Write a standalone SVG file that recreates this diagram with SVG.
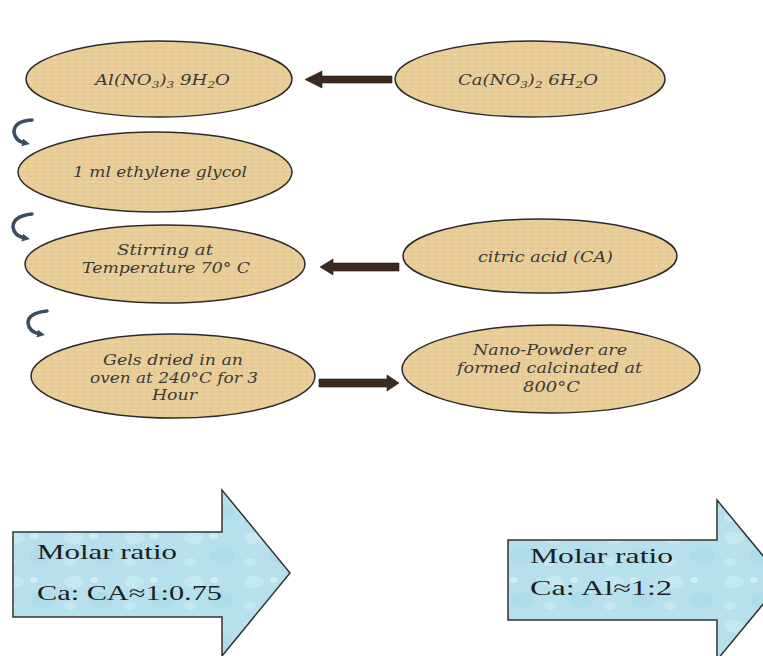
<svg xmlns="http://www.w3.org/2000/svg" width="763" height="656" viewBox="0 0 763 656">
<defs>
<pattern id="papyrus" width="8" height="8" patternUnits="userSpaceOnUse">
<rect width="8" height="8" fill="#E8CB94"/>
<path d="M0 2H8M0 6H8" stroke="#F0D9AA" stroke-width="1" opacity="0.7"/>
<path d="M3 0V8" stroke="#DDBE85" stroke-width="0.8" opacity="0.6"/>
</pattern>
<pattern id="water" width="60" height="44" patternUnits="userSpaceOnUse">
<rect width="60" height="44" fill="#B6E1EC"/>
<ellipse cx="14" cy="10" rx="10" ry="6" fill="#CDEDF4" opacity="0.6"/>
<ellipse cx="42" cy="28" rx="12" ry="8" fill="#A6D8E6" opacity="0.5"/>
<ellipse cx="34" cy="8" rx="4" ry="3" fill="#DDF3F8" opacity="0.6"/>
<ellipse cx="10" cy="34" rx="6" ry="4" fill="#D2EFF5" opacity="0.55"/>
</pattern>
<marker id="curveHead" markerWidth="8" markerHeight="8" refX="3" refY="4" orient="auto" markerUnits="userSpaceOnUse">
<path d="M0,0 L8,4 L0,8 Z" fill="#3A4D63"/>
</marker>
<style>
.ell{fill:url(#papyrus);stroke:#2b2b2b;stroke-width:1.5}
.et{font-family:"DejaVu Serif","Liberation Serif",serif;font-style:italic;font-size:15px;fill:#3a3a3a;text-anchor:start}
.sub{font-size:10px}
.blk{fill:url(#water);stroke:#333;stroke-width:1.5}
.bt{font-family:"Liberation Serif","Times New Roman",serif;font-size:21px;fill:#1e1e1e}
.conn{fill:#3b2a20;stroke:#1f1a18;stroke-width:0.6}
.curve{fill:none;stroke:#3A4D63;stroke-width:3.5;stroke-linecap:round}
</style>
</defs>
<rect width="763" height="656" fill="#ffffff"/>

<g id="connectors">
<polygon class="conn" points="392,76 322,76 322,71 305,79.5 322,88 322,83 392,83"/>
<polygon class="conn" points="399,263 333,263 333,259 320,267 333,275 333,271 399,271"/>
<polygon class="conn" points="319,379 387,379 387,375 399,383 387,391 387,387 319,387"/>
<path class="curve" d="M32,120 Q14,121 14,132 Q15,141 25,143" marker-end="url(#curveHead)"/>
<path class="curve" d="M32,214 Q13,216 13,227 Q14,236 25,238" marker-end="url(#curveHead)"/>
<path class="curve" d="M47,311 Q28,313 28,323 Q29,332 40,334" marker-end="url(#curveHead)"/>
</g>

<g id="node-al">
<ellipse class="ell" cx="159" cy="79" rx="133" ry="38"/>
<text class="et" x="95" y="85" textLength="135" lengthAdjust="spacingAndGlyphs">Al(NO<tspan class="sub" dy="3">3</tspan><tspan dy="-3">)</tspan><tspan class="sub" dy="3">3</tspan><tspan dy="-3"> 9H</tspan><tspan class="sub" dy="3">2</tspan><tspan dy="-3">O</tspan></text>
</g>

<g id="node-ca">
<ellipse class="ell" cx="530" cy="79" rx="135" ry="38"/>
<text class="et" x="458" y="85" textLength="140" lengthAdjust="spacingAndGlyphs">Ca(NO<tspan class="sub" dy="3">3</tspan><tspan dy="-3">)</tspan><tspan class="sub" dy="3">2</tspan><tspan dy="-3"> 6H</tspan><tspan class="sub" dy="3">2</tspan><tspan dy="-3">O</tspan></text>
</g>

<g id="node-glycol">
<ellipse class="ell" cx="155" cy="172" rx="137" ry="40"/>
<text class="et" x="73" y="177" textLength="174" lengthAdjust="spacingAndGlyphs">1 ml ethylene glycol</text>
</g>

<g id="node-stirring">
<ellipse class="ell" cx="165" cy="264" rx="140" ry="39"/>
<text class="et" x="117" y="255" textLength="96" lengthAdjust="spacingAndGlyphs">Stirring  at</text>
<text class="et" x="82" y="273" textLength="168" lengthAdjust="spacingAndGlyphs">Temperature 70° C</text>
</g>

<g id="node-citric">
<ellipse class="ell" cx="540" cy="256" rx="137" ry="37"/>
<text class="et" x="478" y="262" textLength="135" lengthAdjust="spacingAndGlyphs">citric acid (CA)</text>
</g>

<g id="node-gels">
<ellipse class="ell" cx="173" cy="376" rx="142" ry="42"/>
<text class="et" x="103" y="365" textLength="140" lengthAdjust="spacingAndGlyphs">Gels dried in an</text>
<text class="et" x="90" y="383" textLength="168" lengthAdjust="spacingAndGlyphs">oven at 240°C for 3</text>
<text class="et" x="152" y="400" textLength="45" lengthAdjust="spacingAndGlyphs">Hour</text>
</g>

<g id="node-nano">
<ellipse class="ell" cx="551" cy="369" rx="149" ry="44"/>
<text class="et" x="473" y="355" textLength="154" lengthAdjust="spacingAndGlyphs">Nano-Powder are</text>
<text class="et" x="457" y="373" textLength="185" lengthAdjust="spacingAndGlyphs">formed calcinated at</text>
<text class="et" x="523" y="392" textLength="57" lengthAdjust="spacingAndGlyphs">800°C</text>
</g>

<g id="node-ratio-ca">
<polygon class="blk" points="13,532 222,532 222,490 290,573 222,656 222,617 13,617"/>
<text class="bt" x="37" y="559" textLength="140" lengthAdjust="spacingAndGlyphs">Molar ratio</text>
<text class="bt" x="37" y="600" textLength="185" lengthAdjust="spacingAndGlyphs">Ca: CA≈1:0.75</text>
</g>

<g id="node-ratio-al">
<polygon class="blk" points="508,540 717,540 717,500 783,580 717,660 717,620 508,620"/>
<text class="bt" x="530" y="563" textLength="143" lengthAdjust="spacingAndGlyphs">Molar ratio</text>
<text class="bt" x="530" y="595" textLength="142" lengthAdjust="spacingAndGlyphs">Ca: Al≈1:2</text>
</g>
</svg>
